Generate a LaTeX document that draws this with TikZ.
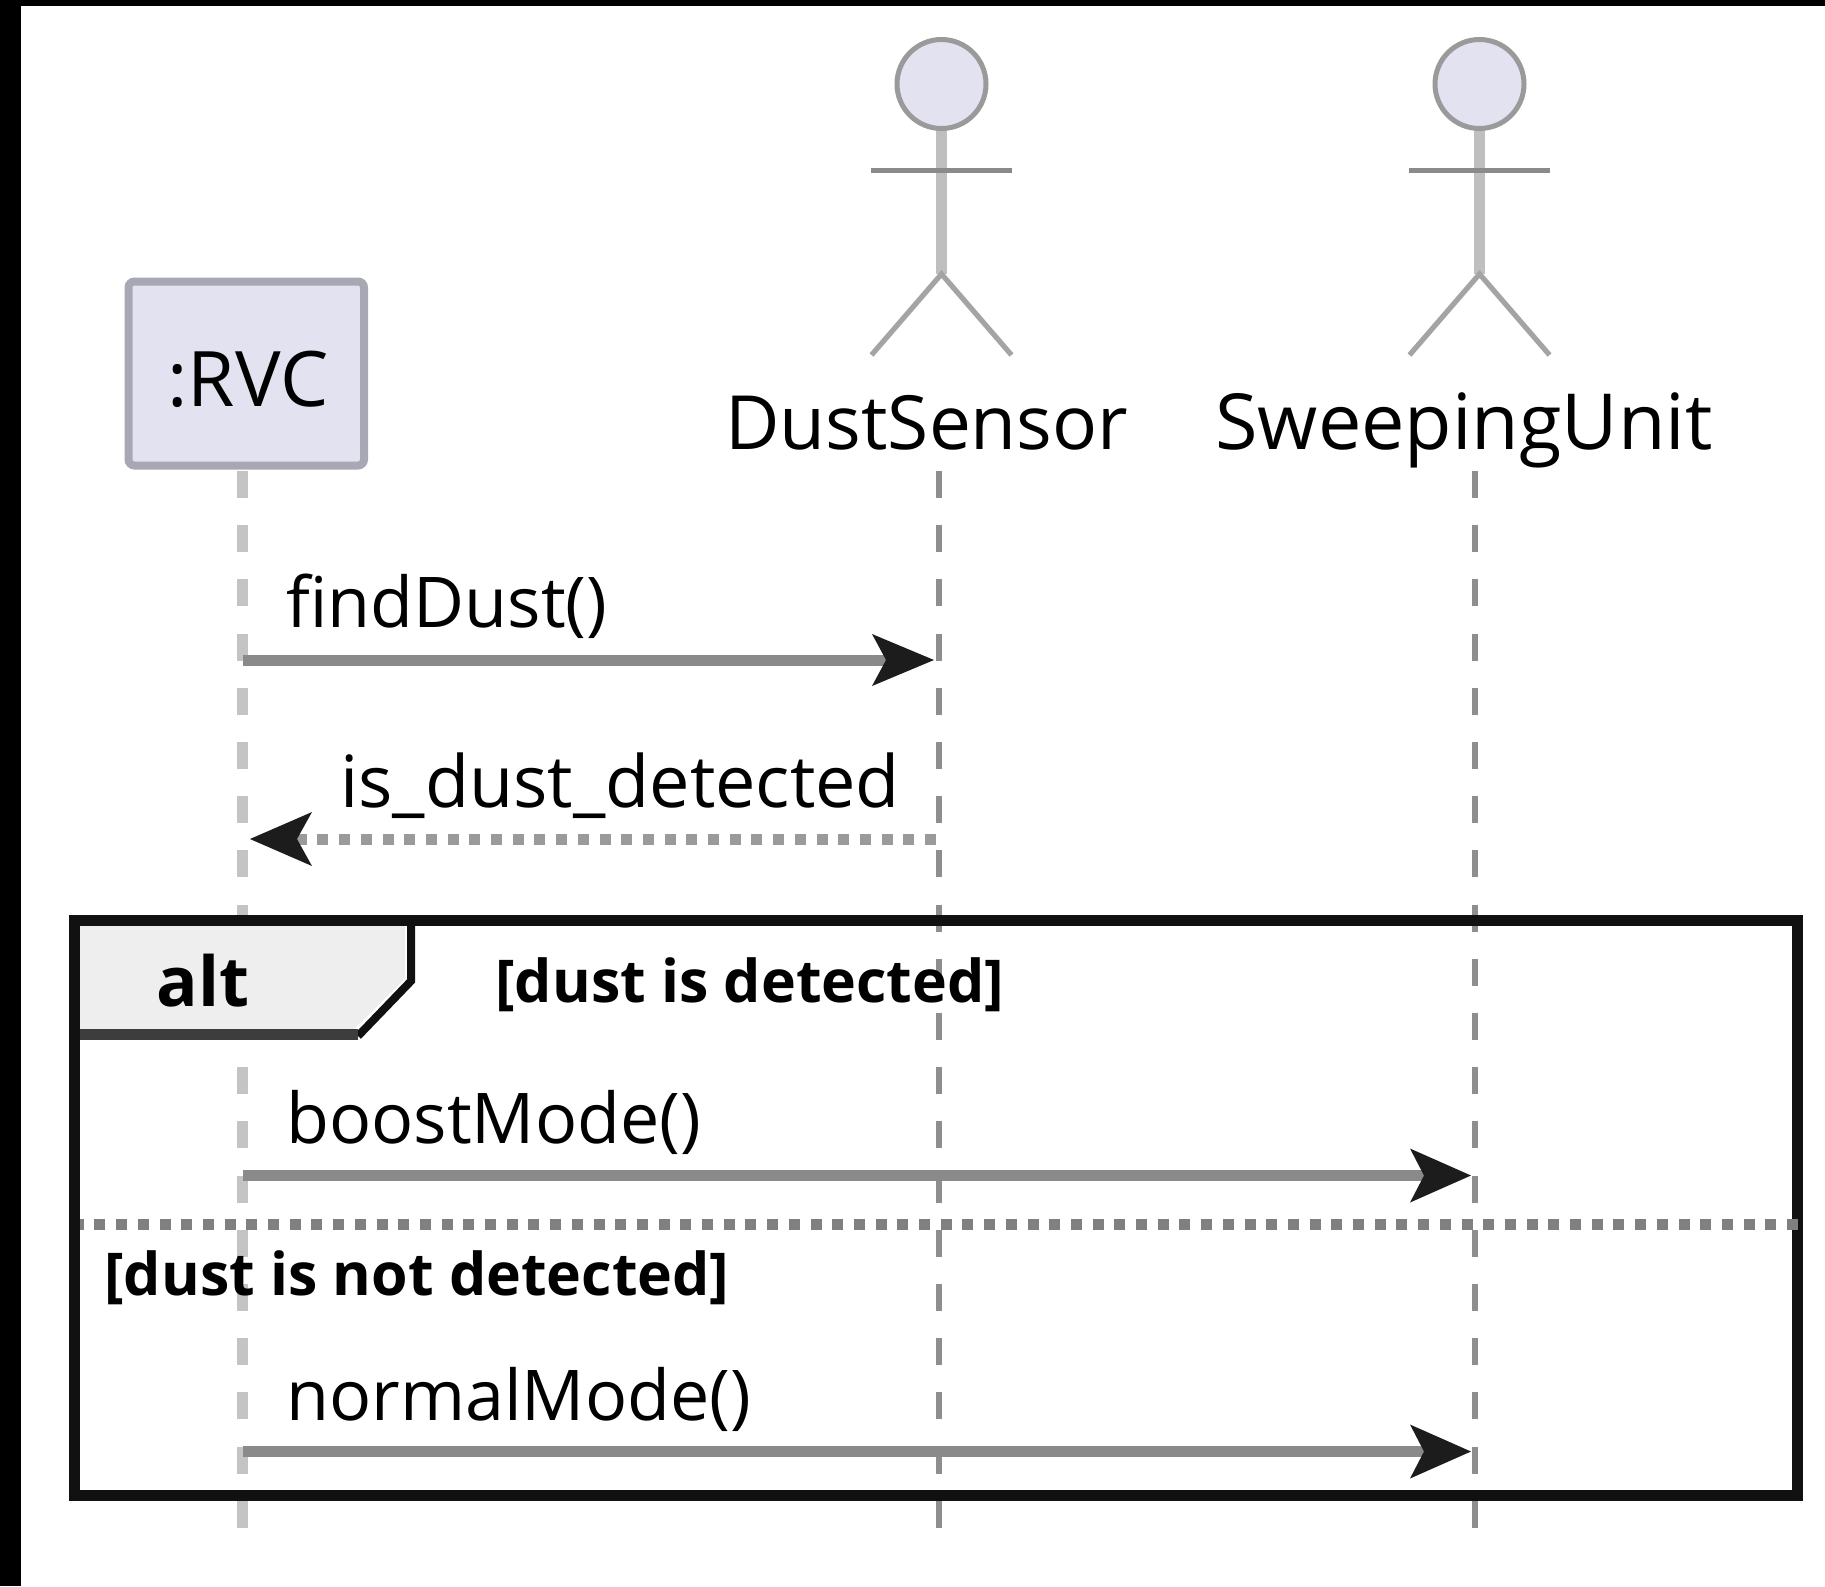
\documentclass[tikz,border=0pt]{standalone}
\usepackage{fontspec}
\setmainfont{Open Sans}
\definecolor{frameK}{HTML}{111111}
\definecolor{lifeG}{HTML}{8E8E8E}
\definecolor{lifeL}{HTML}{C4C4C4}
\definecolor{msgG}{HTML}{8A8A8A}
\definecolor{dotG}{HTML}{9A9A9A}
\definecolor{sepG}{HTML}{808080}
\definecolor{headK}{HTML}{1C1C1C}
\definecolor{partF}{HTML}{E2E2F0}
\definecolor{partD}{HTML}{A8A8B4}
\definecolor{tabF}{HTML}{EEEEEE}
\definecolor{tabB}{HTML}{3D3D3D}
\definecolor{actG}{HTML}{9A9A9A}
\definecolor{actB}{HTML}{BFBFBF}
\tikzset{
  x=0.5pt,y=-0.5pt,
  lifeline/.style={line width=3pt,color=lifeG,dash pattern=on 13.5pt off 13.6pt},
  lifelinewide/.style={line width=5.5pt,color=lifeL,dash pattern=on 13.5pt off 13.6pt},
  msgline/.style={line width=5.5pt,color=msgG},
  msgdot/.style={line width=5.5pt,color=dotG,dash pattern=on 5.5pt off 5.35pt},
  sepdot/.style={line width=5.5pt,color=sepG,dash pattern=on 5.5pt off 5.35pt},
  headshape/.style={fill=headK,draw=none},
  lbl/.style={inner sep=0pt,font=\fontsize{36}{36}\selectfont,anchor=base west,text=black},
  calllbl/.style={lbl,font=\fontsize{35}{36}\selectfont},
  boldlbl/.style={lbl,font=\fontsize{29.5}{30}\selectfont\bfseries},
}
\begin{document}
\begin{tikzpicture}
\useasboundingbox (0,0) rectangle (1825,1586);
\fill[white] (0,0) rectangle (1825,1586);
\fill[black] (0,0) rectangle (1825,5.5);
\fill[black] (0,0) rectangle (21,1586);
% anchors
\coordinate (rvcTop) at (242.5,471);
\coordinate (rvcEnd) at (242.5,1528);
\coordinate (dsTop) at (939,471);
\coordinate (dsEnd) at (939,1528);
\coordinate (suTop) at (1475,471);
\coordinate (suEnd) at (1475,1528);
% lifelines
\draw[lifelinewide] (rvcTop) -- (rvcEnd);
\draw[lifeline] (dsTop) -- (dsEnd);
\draw[lifeline] (suTop) -- (suEnd);
% participant
\node[draw=partD,fill=partF,line width=4pt,rounded corners=3pt,minimum width=117.75pt,minimum height=92pt,inner sep=0pt,anchor=center] (rvc) at (246.25,373.5) {};
\node[lbl,font=\fontsize{38.3}{38}\selectfont] (rvcL) at (167,406) {:RVC};
% actors
\foreach \n/\cx in {ds/941.5,su/1479.5}{
  \node[circle,draw=actG,fill=partF,line width=2.5pt,minimum size=44.5pt,inner sep=0pt] (\n head) at (\cx,84) {};
  \coordinate (\n hip) at (\cx,274);
  \coordinate (\n armL) at (\cx-70.5,170);
  \coordinate (\n armR) at (\cx+70.5,170);
  \coordinate (\n legL) at (\cx-70,355);
  \coordinate (\n legR) at (\cx+70,355);
  \draw[actB,line width=5.5pt] (\n head.south) -- (\n hip);
  \draw[msgG,line width=2.5pt] (\n armL) -- (\n armR);
  \draw[color=actG!90,line width=2.6pt] (\n legL) -- (\n hip) -- (\n legR);
}
\node[lbl,font=\fontsize{37.4}{38}\selectfont] (dsL) at (725,449) {DustSensor};
\node[lbl,font=\fontsize{38.7}{38}\selectfont] (suL) at (1215,449) {SweepingUnit};
% messages
\coordinate (m1a) at (243,660);
\coordinate (m1b) at (890,660);
\draw[msgline] (m1a) -- (m1b);
\fill[headshape] (934,660) -- (872,634) -- (886,660) -- (872,686) -- cycle;
\node[calllbl] (m1L) at (286,627) {findDust()};
\coordinate (m2a) at (936,839);
\coordinate (m2b) at (290,839);
\draw[msgdot] (m2a) -- (m2b);
\fill[headshape] (250,839) -- (312,812) -- (297,839) -- (312,866) -- cycle;
\node[lbl] (m2L) at (340,807) {is\_dust\_detected};
% frame
\draw[frameK,line width=5.5pt] (74.5,920.5) rectangle (1797.5,1495);
\fill[tabF] (80,926) -- (405,926) -- (405,979) -- (354,1029) -- (80,1029) -- cycle;
\draw[frameK,line width=4pt] (411,925) -- (411,981) -- (358,1036);
\draw[tabB,line width=5.5pt] (80,1034.5) -- (358,1034.5);
\node[boldlbl,font=\fontsize{34.5}{34}\selectfont\bfseries] (altL) at (156,1006) {alt};
\node[boldlbl] (g1L) at (495,1002) {[dust is detected]};
\node[boldlbl] (g2L) at (104,1295) {[dust is not detected]};
\coordinate (sepA) at (80,1224.3);
\coordinate (sepB) at (1798,1224.3);
\draw[sepdot] (sepB) -- (sepA);
% alt messages
\coordinate (m3a) at (243,1175.5);
\coordinate (m3b) at (1430,1175.5);
\draw[msgline] (m3a) -- (m3b);
\fill[headshape] (1471,1175.5) -- (1410,1148.5) -- (1424,1175.5) -- (1410,1202.5) -- cycle;
\node[calllbl] (m3L) at (286,1143) {boostMode()};
\coordinate (m4a) at (243,1451.5);
\coordinate (m4b) at (1430,1451.5);
\draw[msgline] (m4a) -- (m4b);
\fill[headshape] (1471,1451.5) -- (1410,1424.5) -- (1424,1451.5) -- (1410,1478.5) -- cycle;
\node[calllbl] (m4L) at (286,1420) {normalMode()};
\end{tikzpicture}
\end{document}
